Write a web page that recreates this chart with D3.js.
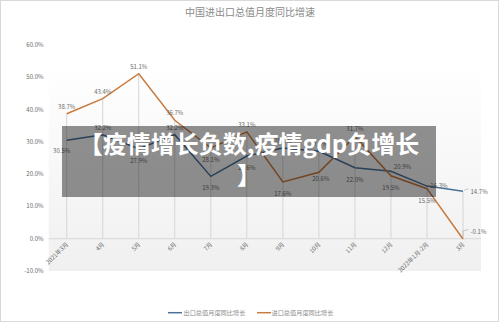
<!DOCTYPE html>
<html><head><meta charset="utf-8">
<script src="https://cdn.jsdelivr.net/npm/d3@7/dist/d3.min.js"></script>
<style>body{margin:0;background:#fff}svg{display:block}</style>
</head><body><svg id="c" width="500" height="323"></svg>
<script>
const categories = ["2021年3月","4月","5月","6月","7月","8月","9月","10月","11月","12月","2022年1月-2月","3月"];
const exportValues = [30.5,32.2,27.9,32.2,19.3,25.6,28.1,27.1,22.0,20.9,16.3,14.7];
const importValues = [38.7,43.4,51.1,36.7,28.1,33.1,17.6,20.6,31.7,19.5,15.5,-0.1];
const yTicks = [-10,0,10,20,30,40,50,60];
const seriesNames = ["出口总值月度同比增长","进口总值月度同比增长"];
const exportLabelPos = ["bl","a","b","a","b","b","a","a","b","ar","r","rl"];
const importLabelPos = ["a","a","a","a","b","a","b","br","a","b","b","rl2"];

const svg = d3.select("#c");
const font = "'Noto Sans CJK SC','Noto Sans',sans-serif";
const blue = "#4a7198", orange = "#c97a3d", txt = "#6b6b6b";

// frame
svg.append("rect").attr("x",0.5).attr("y",0.5).attr("width",498).attr("height",321)
  .attr("fill","#fff").attr("stroke","#d9d9d9");

const defs = svg.append("defs");
const g = defs.append("linearGradient").attr("id","pg").attr("x1",0).attr("y1",0).attr("x2",0).attr("y2",1);
g.append("stop").attr("offset","0%").attr("stop-color","#ffffff");
g.append("stop").attr("offset","100%").attr("stop-color","#f0f0f0");

const x = d3.scaleBand().domain(categories).range([48.7,481]);
const y = d3.scaleLinear().domain([-10,60]).range([271,45]);
const cx = c => x(c) + x.bandwidth()/2;

svg.append("rect").attr("x",48.7).attr("y",62).attr("width",432.3).attr("height",209).attr("fill","url(#pg)");

svg.append("text").attr("x",250).attr("y",16).attr("text-anchor","middle")
  .attr("font-family",font).attr("font-size",10).attr("fill","#8a8a8a").text("中国进出口总值月度同比增速");

// y axis labels
svg.append("g").selectAll("text").data(yTicks).join("text")
  .attr("x",43.5).attr("y",d=>y(d)+2).attr("text-anchor","end")
  .attr("font-family",font).attr("font-size",6).attr("fill",txt)
  .text(d=>d.toFixed(1)+"%");

// drop lines
svg.append("g").selectAll("line").data(categories).join("line")
  .attr("x1",cx).attr("x2",cx)
  .attr("y1",(c,i)=>y(Math.max(exportValues[i],importValues[i])))
  .attr("y2",y(0)).attr("stroke","#d6d6d6").attr("stroke-width",1);

// zero axis
svg.append("line").attr("x1",48.7).attr("x2",481).attr("y1",y(0)).attr("y2",y(0))
  .attr("stroke","#d9d9d9").attr("stroke-width",1);

// category labels
svg.append("g").selectAll("text").data(categories).join("text")
  .attr("transform",c=>`translate(${cx(c)+2},${y(0)+6}) rotate(-45)`)
  .attr("text-anchor","end").attr("font-family",font).attr("font-size",6).attr("fill",txt)
  .text(c=>c);

const line = d3.line().x((d,i)=>cx(categories[i])).y(d=>y(d));
svg.append("path").datum(exportValues).attr("d",line).attr("fill","none").attr("stroke",blue).attr("stroke-width",1.5);
svg.append("path").datum(importValues).attr("d",line).attr("fill","none").attr("stroke",orange).attr("stroke-width",1.5);

function labels(vals,pos){
  const gg = svg.append("g");
  vals.forEach((v,i)=>{
    const px = cx(categories[i]), py = y(v);
    let lx=px, ly=py, anchor="middle";
    const p = pos[i];
    if(p==="a"){ly=py-7;}
    else if(p==="b"){ly=py+12;}
    else if(p==="bl"){lx=px-5;ly=py+11;}
    else if(p==="br"){lx=px+2;ly=py+6.5;}
    else if(p==="ar"){lx=px+11.5;ly=py-4;}
    else if(p==="r"){lx=px+12;ly=py;}
    else if(p==="rl"){lx=px+7.5;ly=py+0.5;anchor="start";
      gg.append("line").attr("x1",px+1).attr("x2",px+5.5).attr("y1",py-1).attr("y2",py-2.5).attr("stroke","#a6a6a6").attr("stroke-width",0.6);}
    else if(p==="rl2"){lx=px+7.5;ly=py-7;anchor="start";
      gg.append("polyline").attr("points",`${px},${py-1} ${px},${py-8} ${px+5.5},${py-9.5}`).attr("fill","none").attr("stroke","#a6a6a6").attr("stroke-width",0.6);}
    gg.append("text").attr("x",lx).attr("y",ly+2).attr("text-anchor",anchor)
      .attr("font-family",font).attr("font-size",6).attr("fill",txt)
      .text(v.toFixed(1)+"%");
  });
}
labels(exportValues,exportLabelPos);
labels(importValues,importLabelPos);

// legend
const leg = svg.append("g");
[[168,183,blue],[257,271,orange]].forEach((l,i)=>{
  leg.append("line").attr("x1",l[0]).attr("x2",l[0]+14).attr("y1",312.7).attr("y2",312.7).attr("stroke",l[2]).attr("stroke-width",1.5);
  leg.append("text").attr("x",l[1]+0.5).attr("y",315).attr("font-family",font).attr("font-size",6.2).attr("fill","#8a8a8a").text(seriesNames[i]);
});

// overlay
svg.append("rect").attr("x",62).attr("y",126).attr("width",374).attr("height",71).attr("fill","rgba(0,0,0,0.43)");
const ot = svg.append("text").attr("text-anchor","middle").attr("font-family",font)
  .attr("font-weight","bold").attr("font-size",24).attr("fill","#fff");
ot.append("tspan").attr("x",249).attr("y",153).text("【疫情增长负数,疫情gdp负增长");
ot.append("tspan").attr("x",249).attr("y",184).text("】");
</script></body></html>
